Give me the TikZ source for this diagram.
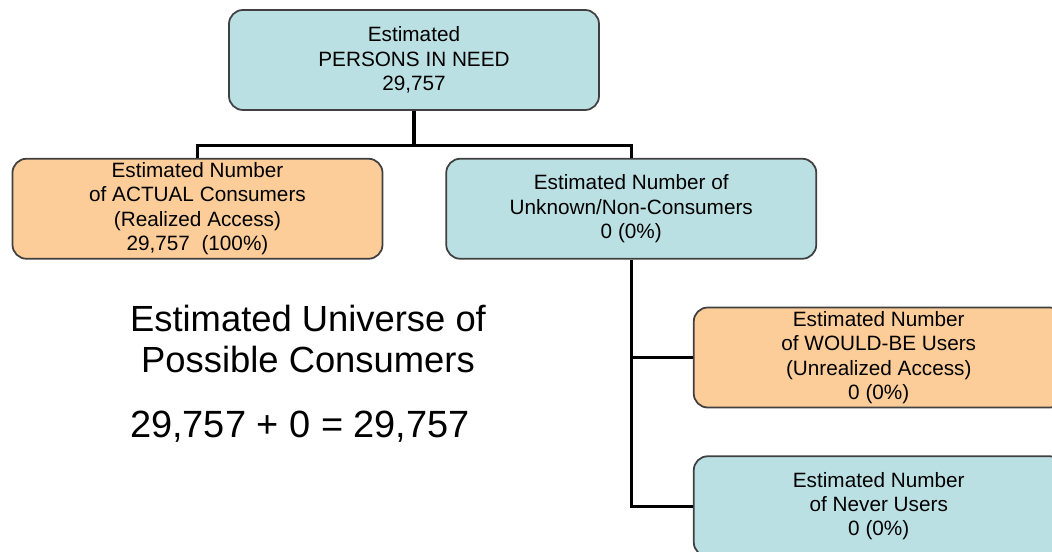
\documentclass[tikz,border=0pt]{standalone}
\usepackage{fontspec}
\setmainfont{Liberation Sans}
\usetikzlibrary{positioning}
\definecolor{needblue}{RGB}{187,224,227}
\definecolor{accessorange}{RGB}{252,204,153}
\definecolor{boxedge}{RGB}{64,64,64}

\begin{document}
\begin{tikzpicture}[
  node distance=0.94cm and 1.24cm,
  box/.style={draw=boxedge, line width=1pt, rounded corners=0.28cm, minimum width=7.4cm, minimum height=2cm, align=center, inner sep=1pt, font=\fontsize{11.8}{13.8}\selectfont},
  bluebox/.style={box, fill=needblue},
  orangebox/.style={box, fill=accessorange},
  conn/.style={line width=1.8pt, black},
  bigtext/.style={align=center, font=\fontsize{20.7}{23.8}\selectfont}
]

\useasboundingbox (0,0) rectangle (21.04,-11.04);

% Row 1: all persons in need
\node[bluebox] (need) at (8.28,-1.2) {Estimated\\PERSONS IN NEED\\29,757};

% Row 2: actual vs. unknown
\node[orangebox, below=of need, xshift=-4.33cm] (actual) {Estimated Number\\of ACTUAL Consumers\\(Realized Access)\\29,757\ \ (100\%)};
\node[bluebox, right=of actual] (unknown) {Estimated Number of\\Unknown/Non-Consumers\\0 (0\%)};

% Rows 3-4: split of the unknown group
\node[orangebox, below=of unknown, xshift=4.95cm] (wouldbe) {Estimated Number\\of WOULD-BE Users\\(Unrealized Access)\\0 (0\%)};
\node[bluebox, below=of wouldbe] (never) {Estimated Number\\of Never Users\\0 (0\%)};

% Universe summary
\node[bigtext] (universe) at (6.16,-6.78) {Estimated Universe of\\Possible Consumers};
\node[bigtext, font=\fontsize{21.6}{24}\selectfont] (total) at (6.0,-8.54) {29,757 + 0 = 29,757};

% Connectors
\draw[conn] (need.south) -- ++(0,-0.7) coordinate (split);
\draw[conn] (actual.north) |- (split) -| (unknown.north);
\draw[conn] (unknown.south) |- (wouldbe.west);
\draw[conn] (unknown.south) |- (never.west);

\end{tikzpicture}
\end{document}
